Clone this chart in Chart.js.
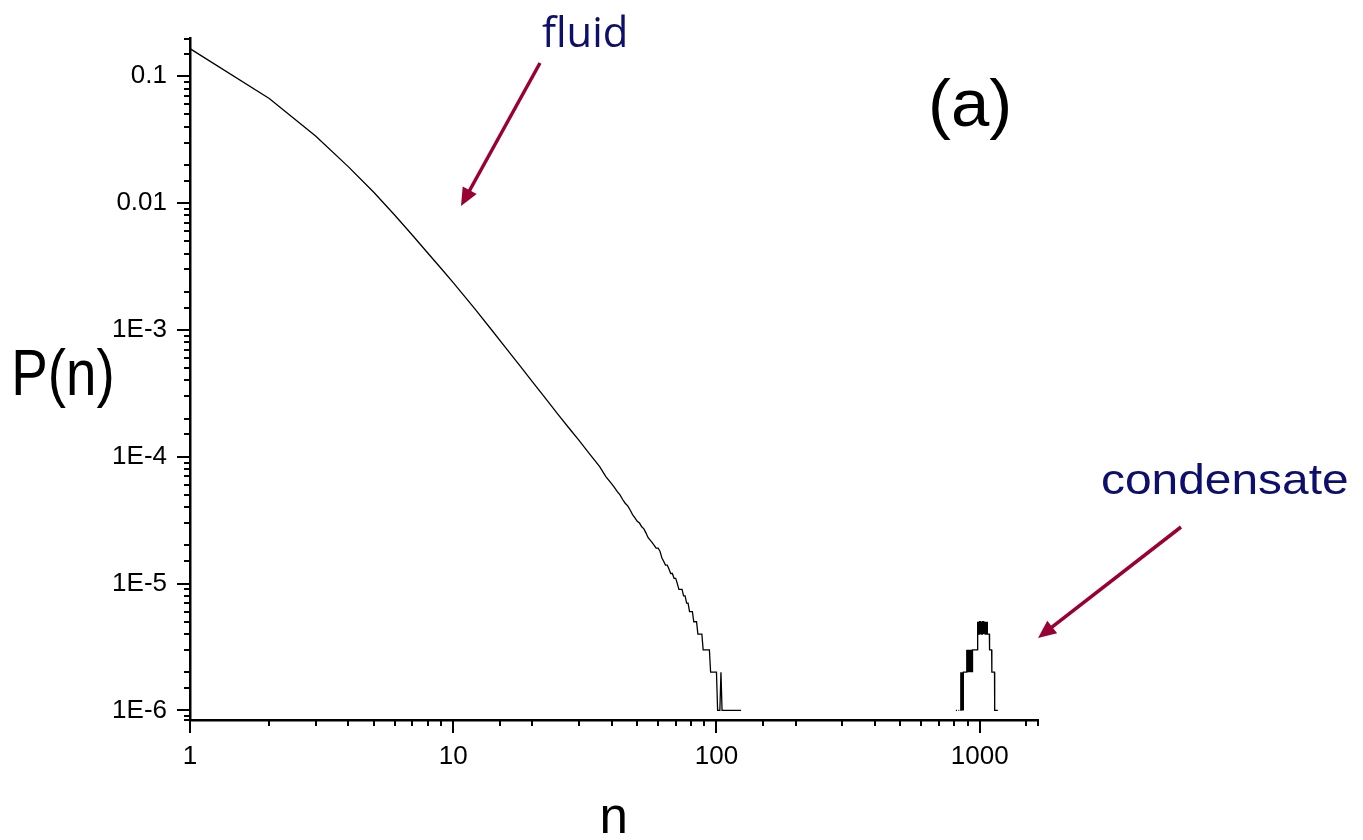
<!DOCTYPE html>
<html>
<head>
<meta charset="utf-8">
<script src="https://cdn.jsdelivr.net/npm/chart.js@4.4.1/dist/chart.umd.min.js"></script>
<style>
	html, body { margin: 0; padding: 0; background: #ffffff; }
	#wrap { width: 1363px; height: 840px; }
</style>
</head>
<body>
<div id="wrap"><canvas id="sizeChart" width="1363" height="840"></canvas></div>
<script>
// fluid part (n, P(n))
var headN = [1, 2, 3, 4, 5, 6, 7, 8, 9, 10, 12, 14, 16, 18, 20, 22, 25, 28, 30, 33, 36, 38],
	 headP = [0.165, 0.0668, 0.0338, 0.0193, 0.0121, 0.00802, 0.00558, 0.00404, 0.00305, 0.00236,
		 0.00149, 0.000998, 0.000703, 0.000515, 0.000389, 0.000303, 0.000216, 0.000161, 0.000135,
		 0.000105, 0.0000836, 0.0000698];

// tail of the fluid part, counts per 1e6 samples for n = 40, 41, ... 124
var tailStart = 40,
	 tailCounts = [61, 57, 53, 50, 46, 43, 41, 38, 35, 33,
		 31, 30, 28, 27, 25, 23, 22, 21, 20, 19,
		 19, 18, 16, 15, 14, 14, 13, 12, 12, 11,
		 11, 10, 9, 9, 9, 8, 8, 7, 7, 6,
		 6, 6, 5, 5, 5, 4, 4, 4, 4, 3,
		 3, 3, 3, 3, 3, 2, 2, 2, 2, 2,
		 2, 1, 1, 1, 2, 1, 1, 1, 1, 1,
		 1, 1, 1, 1, 1, 1, 1, 1, 1, 1,
		 1, 1, 1, 1, 1];

// condensate peak, counts per 1e6 samples (0 = nothing recorded)
var condN = [812, 820, 821, 830, 836, 837,
		 846, 847, 848, 849, 850, 851, 852, 853, 854, 855, 856, 857, 858, 859, 860, 861, 862, 863, 864, 865, 866, 867, 868,
		 890,
		 892, 894, 896, 898, 900, 902, 904, 906, 908, 910, 912, 914, 916, 918, 920, 922, 924, 926, 928, 930, 932, 934, 936, 938, 940,
		 979, 980, 983,
		 984, 986, 988, 990, 992, 994, 996, 998, 1000, 1008, 1009, 1011, 1013, 1015, 1017, 1019, 1021, 1023, 1025, 1027,
		 1036, 1037, 1039, 1041, 1043, 1045, 1047, 1049, 1051, 1053, 1055, 1057, 1059, 1061, 1063, 1065, 1067, 1069,
		 1088, 1090, 1110, 1112, 1138, 1140, 1172],
	 condCounts = [1, 1, 0, 1, 1, 0,
		 1, 2, 1, 2, 1, 2, 1, 2, 1, 2, 1, 2, 2, 1, 2, 1, 2, 1, 2, 1, 2, 1, 2,
		 2,
		 3, 2, 3, 2, 3, 2, 3, 2, 3, 2, 3, 2, 3, 2, 3, 2, 3, 2, 3, 2, 3, 2, 3, 2, 3,
		 3, 4, 4,
		 5, 4, 5, 4, 5, 4, 5, 4, 5, 5, 4, 5, 4, 5, 4, 5, 4, 5, 4, 5,
		 5, 4, 5, 4, 5, 4, 5, 4, 5, 4, 5, 4, 5, 4, 5, 4, 5, 4,
		 4, 3, 3, 2, 2, 1, 1];

var samples = 1e6,
	 xMin = 1, xMax = 1665,
	 yMin = 8.4e-7, yMax = 0.198,
	 xTickValues = [1, 10, 100, 1000],
	 xTickLabels = ['1', '10', '100', '1000'],
	 yTickValues = [0.1, 0.01, 1e-3, 1e-4, 1e-5, 1e-6],
	 yTickLabels = ['0.1', '0.01', '1E-3', '1E-4', '1E-5', '1E-6'];

var fluidData = [],
	 condData = [];

for (var i = 0; i < headN.length; i++) {
	fluidData.push({x: headN[i], y: headP[i]});
}
for (var i = 0; i < tailCounts.length; i++) {
	fluidData.push({x: tailStart + i, y: tailCounts[i] / samples});
}
for (var i = 0; i < condN.length; i++) {
	condData.push({x: condN[i], y: condCounts[i] ? condCounts[i] / samples : null});
}

function sameDecade(a, b) {
	return Math.abs(Math.log10(a) - Math.log10(b)) < 1e-6;
}

function tickLabel(values, labels) {
	return function(value) {
		for (var i = 0; i < values.length; i++) {
			if (sameDecade(values[i], value)) return labels[i];
		}
		return '';
	};
}

// text squeezed into the box its ink covers in the picture
function drawFitted(ctx, text, font, color, box) {
	ctx.save();
	ctx.font = font;
	var m = ctx.measureText(text),
		 w = m.actualBoundingBoxLeft + m.actualBoundingBoxRight,
		 h = m.actualBoundingBoxAscent + m.actualBoundingBoxDescent;
	ctx.translate(box[0], box[1]);
	ctx.scale((box[2] - box[0]) / w, (box[3] - box[1]) / h);
	ctx.fillStyle = color;
	ctx.textAlign = 'left';
	ctx.textBaseline = 'alphabetic';
	ctx.fillText(text, m.actualBoundingBoxLeft, m.actualBoundingBoxAscent);
	ctx.restore();
}

function drawArrow(ctx, x0, y0, x1, y1, color) {
	var dx = x1 - x0, dy = y1 - y0,
		 len = Math.sqrt(dx * dx + dy * dy),
		 ux = dx / len, uy = dy / len,
		 head = 18, half = 8,
		 bx = x1 - ux * head, by = y1 - uy * head;
	ctx.save();
	ctx.strokeStyle = color;
	ctx.fillStyle = color;
	ctx.lineWidth = 3.5;
	ctx.beginPath();
	ctx.moveTo(x0, y0);
	ctx.lineTo(bx + ux * 2, by + uy * 2);
	ctx.stroke();
	ctx.beginPath();
	ctx.moveTo(x1, y1);
	ctx.lineTo(bx - uy * half, by + ux * half);
	ctx.lineTo(bx + uy * half, by - ux * half);
	ctx.closePath();
	ctx.fill();
	ctx.restore();
}

var tickMarks = {
	id: 'tickMarks',
	afterDraw: function(chart) {
		var ctx = chart.ctx,
			 area = chart.chartArea,
			 xs = chart.scales.x,
			 ys = chart.scales.y;

		ctx.save();
		ctx.strokeStyle = '#000000';
		ctx.lineWidth = 2;
		xs.ticks.forEach(function(t) {
			if (t.value < xMin || t.value > xMax) return;
			var px = Math.round(xs.getPixelForValue(t.value)),
				 major = sameDecade(t.value, Math.pow(10, Math.round(Math.log10(t.value))));
			ctx.beginPath();
			ctx.moveTo(px, area.bottom);
			ctx.lineTo(px, area.bottom + (major ? 13 : 6));
			ctx.stroke();
		});
		ys.ticks.forEach(function(t) {
			if (t.value < yMin || t.value > yMax) return;
			var py = Math.round(ys.getPixelForValue(t.value)),
				 major = sameDecade(t.value, Math.pow(10, Math.round(Math.log10(t.value))));
			ctx.beginPath();
			ctx.moveTo(area.left, py);
			ctx.lineTo(area.left - (major ? 13 : 6), py);
			ctx.stroke();
		});
		ctx.restore();

		var navy = '#0e0e6c',
			 red = '#990033';
		drawFitted(ctx, 'P(n)', '60px "Liberation Sans", Arial', '#000000', [15, 349, 112, 408]);
		drawFitted(ctx, 'n', '60px "Liberation Sans", Arial', '#000000', [602, 805, 625, 833]);
		drawFitted(ctx, '(a)', '70px "Liberation Sans", Arial', '#000000', [932, 77, 1008, 140]);
		drawFitted(ctx, 'fluid', '45px "Open Sans"', navy, [542, 13, 625, 47]);
		drawFitted(ctx, 'condensate', '46px "Liberation Sans", Arial', navy, [1102, 463, 1347, 494]);
		drawArrow(ctx, 540, 63, 461, 206, red);
		drawArrow(ctx, 1181, 527, 1038, 638, red);
	}
};

var sizeChart = new Chart(document.getElementById('sizeChart').getContext('2d'), {
	type: 'line',
	data: {
		datasets: [{
			label: 'fluid',
			data: fluidData,
			borderColor: '#000000',
			borderWidth: 1.3,
			pointRadius: 0,
			tension: 0,
			fill: false
		}, {
			label: 'condensate',
			data: condData,
			borderColor: '#000000',
			borderWidth: 1.3,
			pointRadius: 0,
			tension: 0,
			spanGaps: false,
			fill: false
		}]
	},
	options: {
		responsive: false,
		animation: false,
		devicePixelRatio: 1,
		layout: {
			padding: {top: 38, right: 325, left: 0, bottom: 0}
		},
		plugins: {
			legend: {display: false},
			tooltip: {enabled: false}
		},
		scales: {
			x: {
				type: 'logarithmic',
				position: 'bottom',
				min: xMin,
				max: xMax,
				grid: {display: false, drawTicks: false},
				border: {display: true, color: '#000000', width: 2.5},
				ticks: {
					autoSkip: false,
					maxRotation: 0,
					padding: 21,
					color: '#000000',
					font: {family: '"Liberation Sans", Arial', size: 26},
					callback: tickLabel(xTickValues, xTickLabels)
				},
				afterFit: function(scale) { scale.height = 120; }
			},
			y: {
				type: 'logarithmic',
				position: 'left',
				min: yMin,
				max: yMax,
				grid: {display: false, drawTicks: false},
				border: {display: true, color: '#000000', width: 2.5},
				ticks: {
					autoSkip: false,
					padding: 23,
					color: '#000000',
					font: {family: '"Liberation Sans", Arial', size: 26},
					callback: tickLabel(yTickValues, yTickLabels)
				},
				afterFit: function(scale) { scale.width = 190; }
			}
		}
	},
	plugins: [tickMarks]
});
</script>
</body>
</html>
